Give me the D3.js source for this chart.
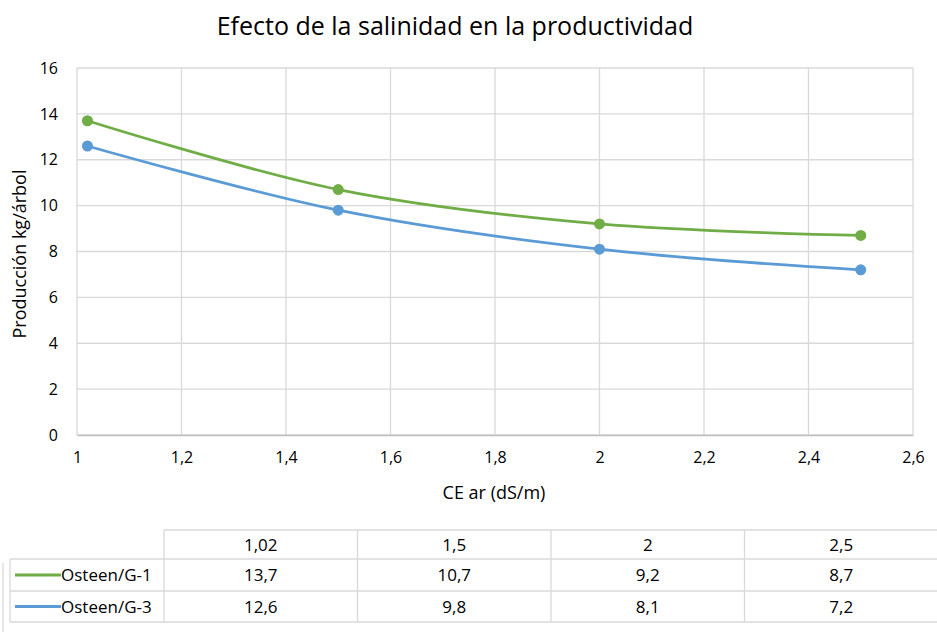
<!DOCTYPE html>
<html>
<head>
<meta charset="utf-8">
<script src="https://cdn.jsdelivr.net/npm/d3@7"></script>
<style>
  body { margin: 0; background: #fff; }
  svg text { font-family: "Open Sans", "Noto Sans", sans-serif; fill: #000; }
</style>
</head>
<body>
<svg width="937" height="632"></svg>
<script>
const ceValues = [1.02, 1.5, 2, 2.5]
const ceLabels = ['1,02', '1,5', '2', '2,5']
const seriesNames = ['Osteen/G-1', 'Osteen/G-3']
const g1Values = [13.7, 10.7, 9.2, 8.7]
const g3Values = [12.6, 9.8, 8.1, 7.2]
const seriesColors = ['#70ad47', '#5b9bd5']
const xTicks = [1, 1.2, 1.4, 1.6, 1.8, 2, 2.2, 2.4, 2.6]
const yTicks = [0, 2, 4, 6, 8, 10, 12, 14, 16]

const svg = d3.select('svg')
const width = +svg.attr('width')

const margin = {top: 68, left: 77}
const innerWidth = 913 - margin.left
const innerHeight = 435 - margin.top

const xScale = d3.scaleLinear().domain([1, 2.6]).range([0, innerWidth])
const yScale = d3.scaleLinear().domain([0, 16]).range([innerHeight, 0])

// title
svg.append('text')
  .text('Efecto de la salinidad en la productividad')
  .attr('x', 455).attr('y', 35)
  .attr('text-anchor', 'middle')
  .style('font-size', '25px')

const g = svg.append('g').attr('transform', `translate(${margin.left},${margin.top})`)

// grid
g.append('g').selectAll('line')
  .data(yTicks).enter().append('line')
    .attr('x1', 0).attr('x2', innerWidth)
    .attr('y1', d => yScale(d)).attr('y2', d => yScale(d))
    .attr('stroke', '#d9d9d9').attr('stroke-width', 1.3)
g.append('g').selectAll('line')
  .data(xTicks).enter().append('line')
    .attr('y1', 0).attr('y2', innerHeight)
    .attr('x1', d => xScale(d)).attr('x2', d => xScale(d))
    .attr('stroke', '#d9d9d9').attr('stroke-width', 1.3)

// axes
const xAxis = d3.axisBottom(xScale).tickValues(xTicks)
  .tickFormat(d => String(+d.toFixed(1)).replace('.', ','))
  .tickSize(0).tickPadding(17)
const yAxis = d3.axisLeft(yScale).tickValues(yTicks)
  .tickSize(0).tickPadding(19)

g.append('g').attr('transform', `translate(0,${innerHeight})`).call(xAxis)
  .call(a => a.select('.domain').attr('stroke', '#bfbfbf').attr('stroke-width', 1.3))
  .selectAll('text').style('font-size', '16px').style('fill', '#000').style('font-family', '"Open Sans", sans-serif')
g.append('g').call(yAxis)
  .call(a => a.select('.domain').remove())
  .selectAll('text').style('font-size', '16px').style('fill', '#000').style('font-family', '"Open Sans", sans-serif')

// axis titles
svg.append('text').text('CE ar (dS/m)')
  .attr('x', 494).attr('y', 499).attr('text-anchor', 'middle')
  .style('font-size', '18px')
svg.append('text').text('Producción kg/árbol')
  .attr('transform', 'translate(26,254) rotate(-90)')
  .attr('text-anchor', 'middle')
  .style('font-size', '18px')

// lines
const series = [g1Values, g3Values]
const line = d3.line()
  .x((d, i) => xScale(ceValues[i]))
  .y(d => yScale(d))
  .curve(d3.curveCatmullRom.alpha(0))

series.forEach((vals, s) => {
  g.append('path').datum(vals)
    .attr('d', line)
    .attr('fill', 'none')
    .attr('stroke', seriesColors[s])
    .attr('stroke-width', 2.8)
  g.append('g').selectAll('circle')
    .data(vals).enter().append('circle')
      .attr('cx', (d, i) => xScale(ceValues[i]))
      .attr('cy', d => yScale(d))
      .attr('r', 5.5)
      .attr('fill', seriesColors[s])
})

// data table
const tableLeft = 10, headLeft = 164, colW = 193.5
const rowY = [530, 559, 591, 622]
const colX = d3.scaleBand().domain(ceLabels).range([headLeft, headLeft + colW * ceLabels.length])
const tg = svg.append('g')
const border = '#d9d9d9'

tg.append('line').attr('x1', headLeft).attr('x2', width + 5).attr('y1', rowY[0]).attr('y2', rowY[0]).attr('stroke', border).attr('stroke-width', 1.3)
rowY.slice(1).forEach(y => {
  tg.append('line').attr('x1', tableLeft).attr('x2', width + 5).attr('y1', y).attr('y2', y).attr('stroke', border).attr('stroke-width', 1.3)
})
tg.append('line').attr('x1', tableLeft).attr('x2', tableLeft).attr('y1', rowY[1]).attr('y2', rowY[3]).attr('stroke', border).attr('stroke-width', 1.3)
tg.append('line').attr('x1', 3).attr('x2', 3).attr('y1', 563).attr('y2', 632).attr('stroke', border).attr('stroke-width', 1.3)
ceLabels.forEach(c => {
  tg.append('line').attr('x1', colX(c)).attr('x2', colX(c)).attr('y1', rowY[0]).attr('y2', rowY[3]).attr('stroke', border).attr('stroke-width', 1.3)
})

tg.selectAll('.head').data(ceLabels).enter().append('text')
  .attr('x', d => colX(d) + colX.bandwidth() / 2)
  .attr('y', (rowY[0] + rowY[1]) / 2 + 6)
  .attr('text-anchor', 'middle')
  .style('font-size', '17px')
  .text(d => d)

series.forEach((vals, s) => {
  const yMid = (rowY[s + 1] + rowY[s + 2]) / 2
  tg.append('line')
    .attr('x1', 15).attr('x2', 61).attr('y1', yMid).attr('y2', yMid)
    .attr('stroke', seriesColors[s]).attr('stroke-width', 3)
  tg.append('text').text(seriesNames[s])
    .attr('x', 61).attr('y', yMid + 6)
    .style('font-size', '17px')
  tg.selectAll(null).data(vals).enter().append('text')
    .attr('x', (d, i) => colX(ceLabels[i]) + colX.bandwidth() / 2)
    .attr('y', yMid + 6)
    .attr('text-anchor', 'middle')
    .style('font-size', '17px')
    .text(d => String(d).replace('.', ','))
})
</script>
</body>
</html>
